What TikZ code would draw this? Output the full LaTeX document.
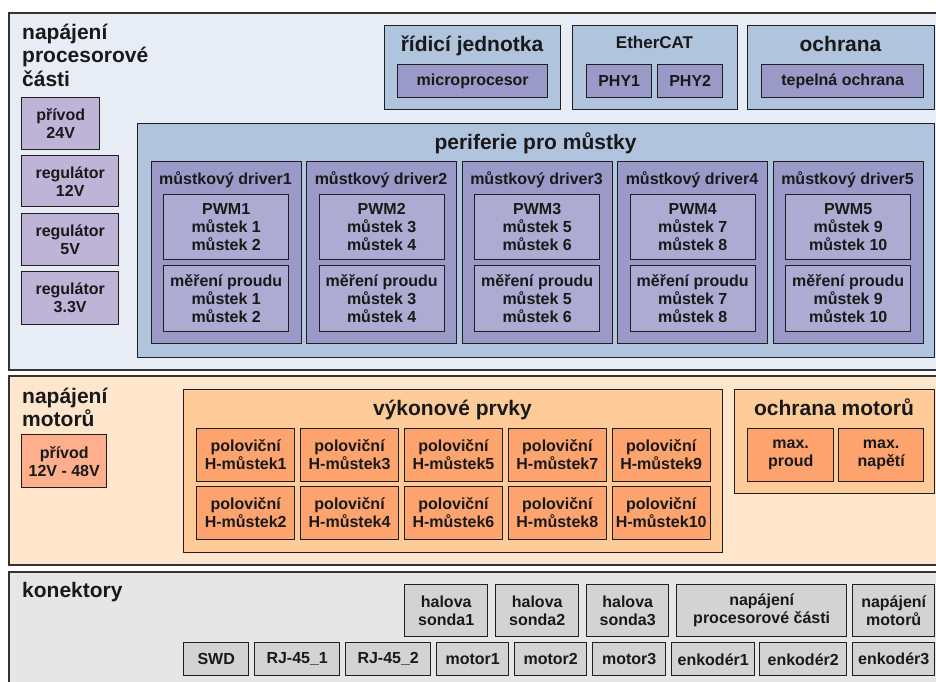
\documentclass[tikz,border=0pt]{standalone}
\usepackage{fontspec}
\setmainfont{Liberation Sans}

\definecolor{secA}{HTML}{E8ECF4}
\definecolor{steel}{HTML}{B0C4DE}
\definecolor{drvfill}{HTML}{9B99C8}
\definecolor{innerfill}{HTML}{ADABD1}
\definecolor{lav}{HTML}{BDB4D8}
\definecolor{secB}{HTML}{FFE6CC}
\definecolor{orangebox}{HTML}{FFCC99}
\definecolor{salmon}{HTML}{FFA36F}
\definecolor{salmonlt}{HTML}{FFAF8C}
\definecolor{secC}{HTML}{E6E6E6}
\definecolor{conn}{HTML}{D3D3D3}

\newcommand\bxfont{\fontsize{16}{18}\selectfont\bfseries}
\newcommand\hdfont{\fontsize{21}{23.5}\selectfont\bfseries}

\tikzset{
  sz/.style 2 args={minimum width=#1, minimum height=#2},
  frame/.style={draw=black!88, line width=1.4pt, anchor=north west,
    inner sep=0pt, align=center, font=\bxfont, text=black!90},
  section/.style={draw=black!80, line width=1.6pt, anchor=north west, inner sep=0pt},
  % multi-line titles: the base anchor sits on the last line
  sectitle/.style={anchor=base west, align=left, font=\hdfont, inner sep=0pt, text=black!90},
  boxtitle/.style={anchor=base, font=\hdfont, inner sep=0pt, text=black!90},
  smalltitle/.style={anchor=base, font=\bxfont, inner sep=0pt, text=black!90},
}

\begin{document}
\begin{tikzpicture}[x=1pt,y=-1pt]
\useasboundingbox (0,0) rectangle (936,681);
\clip (0,0) rectangle (936,681);

% ---------- processor part ----------
\node[section, fill=secA, sz={940}{357}] (secA) at (8,12) {};
\node[sectitle] (secAT) at (22,86) {napájení\\procesorové\\části};

\node[frame, fill=lav, sz={78}{52}] (p24) at (21,97) {přívod\\24V};
\node[frame, fill=lav, sz={97}{51}] (r12) at (21,155) {regulátor\\12V};
\node[frame, fill=lav, sz={97}{52}] (r5) at (21,213) {regulátor\\5V};
\node[frame, fill=lav, sz={97}{53}] (r33) at (21,271) {regulátor\\3.3V};

\node[frame, fill=steel, sz={176}{84}] (ctrl) at (384,25) {};
\node[boxtitle] (ctrlT) at (472,51) {řídicí jednotka};
\node[frame, fill=drvfill, sz={150}{33}] (mcu) at (397,64) {microprocesor};

\node[frame, fill=steel, sz={165}{84}] (ecat) at (572,25) {};
\node[smalltitle, font=\fontsize{17}{19}\selectfont\bfseries] (ecatT) at (654.5,48) {EtherCAT};
\node[frame, fill=drvfill, sz={65}{33}] (phy1) at (586,64) {PHY1};
\node[frame, fill=drvfill, sz={65}{33}] (phy2) at (657,64) {PHY2};

\node[frame, fill=steel, sz={187}{84}] (prot) at (747,25) {};
\node[boxtitle] (protT) at (840.5,51) {ochrana};
\node[frame, fill=drvfill, sz={162}{33}] (therm) at (761,64) {tepelná ochrana};

\node[frame, fill=steel, sz={797}{234}] (peri) at (137,123) {};
\node[boxtitle] (periT) at (535.5,149) {periferie pro můstky};

\foreach \i in {1,...,5}{
  \pgfmathsetmacro\xx{150.5+155.5*(\i-1)}
  \pgfmathtruncatemacro\ma{2*\i-1}
  \pgfmathtruncatemacro\mb{2*\i}
  \node[frame, fill=drvfill, sz={150}{182}] (drv\i) at (\xx,161) {};
  \node[smalltitle] (drvT\i) at (\xx+75,184) {můstkový driver\i};
  \node[frame, fill=innerfill, sz={125}{65}] (pwm\i) at (\xx+12.5,194)
    {PWM\i\\můstek \ma\\můstek \mb};
  \node[frame, fill=innerfill, sz={125}{66}] (cur\i) at (\xx+12.5,265)
    {měření proudu\\můstek \ma\\můstek \mb};
}

% ---------- motor power part ----------
\node[section, fill=secB, sz={940}{189}] (secB) at (8,375) {};
\node[sectitle] (secBT) at (22,426.5) {napájení\\motorů};
\node[frame, fill=salmonlt, sz={85}{53}] (p48) at (21,434) {přívod\\12V - 48V};

\node[frame, fill=orangebox, sz={539}{163}] (pwr) at (183,389) {};
\node[boxtitle] (pwrT) at (452.5,415) {výkonové prvky};
\foreach \c in {0,...,4}{
  \foreach \r in {0,1}{
    \pgfmathsetmacro\xx{196+103.875*\c}
    \pgfmathsetmacro\yy{428+58*\r}
    \pgfmathtruncatemacro\n{2*\c+1+\r}
    \node[frame, fill=salmon, sz={98}{52.5}] (hb\n) at (\xx,\yy)
      {poloviční\\H-můstek\n};
  }
}

\node[frame, fill=orangebox, sz={200}{104}] (mprot) at (734,389) {};
\node[boxtitle] (mprotT) at (834,415) {ochrana motorů};
\node[frame, fill=salmon, sz={86}{53}] (maxi) at (747,428) {max.\\proud};
\node[frame, fill=salmon, sz={85}{53}] (maxu) at (838,428) {max.\\napětí};

% ---------- connectors ----------
\node[section, fill=secC, sz={940}{130}] (secC) at (8,571) {};
\node[sectitle] (secCT) at (22,597) {konektory};

\node[frame, fill=conn, sz={83}{52}] (hs1) at (404,584) {halova\\sonda1};
\node[frame, fill=conn, sz={83}{52}] (hs2) at (495,584) {halova\\sonda2};
\node[frame, fill=conn, sz={82}{52}] (hs3) at (586,584) {halova\\sonda3};
\node[frame, fill=conn, sz={170}{52}] (npc) at (676,584) {napájení\\procesorové části};
\node[frame, fill=conn, sz={82}{52}] (nmo) at (852,584) {napájení\\motorů};

\node[frame, fill=conn, sz={65}{33}] (swd) at (183,642) {SWD};
\node[frame, fill=conn, sz={85}{33}] (rj1) at (254,642) {RJ-45\_1};
\node[frame, fill=conn, sz={85}{33}] (rj2) at (345,642) {RJ-45\_2};
\node[frame, fill=conn, sz={72}{33}] (mot1) at (436,642) {motor1};
\node[frame, fill=conn, sz={72}{33}] (mot2) at (514,642) {motor2};
\node[frame, fill=conn, sz={73}{33}] (mot3) at (592,642) {motor3};
\node[frame, fill=conn, sz={83}{33}] (enc1) at (671,642) {enkodér1};
\node[frame, fill=conn, sz={87}{33}] (enc2) at (759,642) {enkodér2};
\node[frame, fill=conn, sz={82}{33}] (enc3) at (852,642) {enkodér3};
\end{tikzpicture}
\end{document}
